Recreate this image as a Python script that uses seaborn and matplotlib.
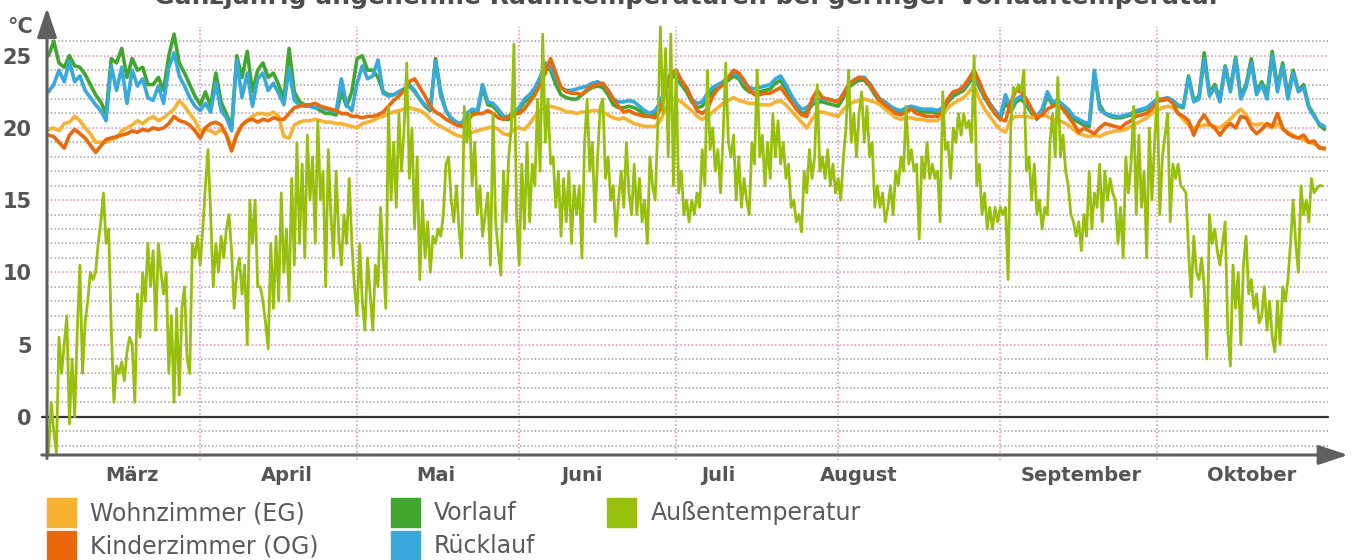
import pandas as pd
import matplotlib.pyplot as plt
from matplotlib.patches import Patch
import seaborn as sns

#  Setup
sns.set_style("white")
plt.rcParams["font.family"] = ["DejaVu Sans"]

TITLE = "Ganzjährig angenehme Raumtemperaturen bei geringer Vorlauftemperatur"

# daily values, 3 March -> 2 November (°C)
wohnzimmer = [
    19.9, 20.0, 19.8, 20.3, 20.4, 20.8, 20.5, 20.0, 19.6, 19.0,
    None, 19.0, 19.2, 19.3, 19.8, 20.0, 20.2, 20.5, 20.3, 20.6,
    20.8, 20.5, 20.7, 21.0, 21.3, 21.9, 21.5, 21.0, 20.5, 19.8,
    19.9, 19.8, 19.6, 19.9, 19.6, 18.6, 19.6, 20.2, 20.5, 20.8,
    21.0, 21.0, 20.9, 21.1, 20.8, 19.4, 19.3, 20.2, 20.4, 20.5,
    20.5, 20.6, 20.5, 20.4, 20.4, 20.3, 20.3, 20.2, 20.1, 20.0,
    20.3, 20.4, 20.5, 20.7, 20.8, 21.0, 21.1, 21.2, 21.3, 21.4,
    21.3, 21.2, 21.0, 20.6, 20.3, 20.1, 19.9, 19.7, 19.5, 19.4,
    19.6, 19.7, 19.8, 19.9, 20.0, 20.1, 19.9, 19.6, 19.5, 19.9,
    20.0, 19.9, 20.3, 20.8, 21.2, 21.4, 21.5, 21.4, 21.3, 21.1,
    21.1, 21.0, 21.1, 21.1, 21.2, 21.2, 21.1, 20.9, 20.7, 20.6,
    20.7, 20.5, 20.3, 20.2, 20.1, 20.1, 20.1, 20.5, 21.3, 22.0,
    22.0, 21.8, 21.5, 21.2, 20.8, 20.6, 20.8, 21.1, 21.4, 21.7,
    21.9, 22.1, 21.9, 21.8, 21.7, 21.7, 21.6, 21.6, 21.6, 21.8,
    21.9, 21.6, 21.2, 20.8, 20.4, 20.0, 20.6, 21.1, 21.1, 21.0,
    20.9, 20.8, 21.3, 21.6, 21.8, 21.9, 22.0, 21.9, 21.8, 21.6,
    21.3, 21.0, 20.7, 20.6, 20.7, 20.7, 20.6, 20.6, 20.5, 20.5,
    20.5, 20.9, 21.4, 21.7, 21.9, 22.1, 22.5, 22.9, 22.0, 21.3,
    20.8, 20.3, 19.9, 19.7, 20.6, 20.8, 20.8, 20.8, 20.7, 20.8,
    20.9, 20.8, 20.6, 20.5, 20.4, 20.2, 19.9, 19.6, 19.5, 19.4,
    19.5, 19.4, 19.6, 19.7, 19.8, 19.8, 19.9, 20.1, 20.3, 20.5,
    20.7, 21.0, 21.2, 21.4, 21.5, 21.4, 21.0, 20.6, 20.2, 20.0,
    20.1, 20.2, 20.2, 20.1, 20.0, 20.3, 20.6, 21.0, 21.3, 20.9,
    20.3, 20.2, 20.3, 20.2, 20.0, 20.3, 19.9, 19.7, 19.5, 19.3,
    19.2, 19.0, 18.9, 18.7, 18.5,
]

kinderzimmer = [
    19.5, 19.4, 19.0, 18.6, 19.5, 19.9, 19.6, 19.3, 18.8, 18.3,
    None, 19.2, 19.3, 19.4, 19.5, 19.6, 19.8, 19.7, 19.9, 19.8,
    20.0, 19.9, 20.0, 20.3, 20.8, 20.5, 20.4, 20.2, 19.8, 19.3,
    20.0, 20.3, 20.4, 20.2, 19.5, 18.4, 19.5, 20.2, 20.5, 20.6,
    20.4, 20.6, 20.5, 20.7, 20.6, 20.6, 21.0, 21.4, 21.5, 21.6,
    21.6, 21.7, 21.5, 21.4, 21.3, 21.2, 21.0, 21.0, 20.8, 20.8,
    20.7, 20.8, 20.8, 20.9, 21.1, 21.5, 21.9, 22.2, 22.6, 23.2,
    23.4, 22.8, 22.2, 21.5, 21.1, 20.9, 20.6, 20.4, 20.2, 20.1,
    20.4, 20.9, 21.0, 21.0, 21.2, 21.0, 20.7, 20.6, 20.8, 21.0,
    21.0, 21.3, 21.8, 22.3, 23.0, 23.8, 24.8, 23.8, 22.8, 22.5,
    22.4, 22.4, 22.3, 22.7, 22.9, 23.0, 23.1, 22.6, 22.0, 21.5,
    21.1, 21.2, 21.0, 20.9, 20.8, 20.8, 20.7, 21.3, 22.5, 23.8,
    24.0, 23.3, 22.8, 22.0, 21.2, 21.0, 21.3, 22.2, 22.7, 23.0,
    23.5, 24.0, 23.8, 23.3, 22.7, 22.3, 22.3, 22.4, 22.4, 22.6,
    22.8, 22.3, 21.8, 21.3, 20.9, 20.8, 22.0, 22.6, 22.1, 22.0,
    21.9, 21.8, 22.3, 23.0, 23.3, 23.5, 23.4, 23.0, 22.5, 21.9,
    21.6, 21.3, 21.0, 20.9, 21.1, 21.3, 21.0, 20.9, 20.8, 20.8,
    20.8, 21.2, 22.0, 22.5, 22.6, 22.9, 23.4, 24.0, 23.2, 22.3,
    21.6, 21.0, 20.6, 20.5, 21.8, 22.6, 22.5, 22.0, 21.3, 20.7,
    20.9, 21.3, 21.5, 21.6, 21.3, 20.8, 20.3, 19.7, 20.0, 19.8,
    19.6, 20.0, 20.3, 20.2, 20.1, 20.0, 20.3, 20.5, 20.8, 20.9,
    21.0, 21.3, 21.8, 22.0, 22.0, 21.7, 21.0, 20.8, 20.5, 19.5,
    20.4, 20.9, 20.3, 20.0, 19.5, 20.0, 20.3, 20.0, 20.8, 20.7,
    20.0, 19.6, 19.9, 20.3, 20.1, 21.0, 20.0, 19.6, 19.4, 19.3,
    19.5, 19.0, 19.1, 18.6, 18.6,
]

vorlauf = [
    25.0, 26.0, 24.5, 24.2, 25.0, 24.3, 24.2, 23.7, 23.0, 22.3,
    21.8, 21.0, 24.8, 24.5, 25.5, 23.5, 24.8, 24.0, 24.2, 23.0,
    23.0, 23.5, 22.6, 25.0, 26.5, 24.5, 23.8, 23.0, 22.2, 21.6,
    22.5, 21.5, 23.8, 21.8, 21.0, 20.0, 25.0, 23.5, 25.3, 22.5,
    24.0, 24.5, 23.5, 23.8, 23.0, 22.0, 25.5, 22.5, 21.8, 21.6,
    21.5, 21.4, 21.2, 21.0, 21.0, 20.9, 22.5, 21.5, 22.5, 24.8,
    25.0, 24.0, 24.0, 23.5, 22.5, 22.3, 22.3, 22.5, 22.7, 22.9,
    22.5, 22.0, 21.5, 21.2, 24.8, 22.5, 21.2, 20.6, 20.3, 20.2,
    20.8, 21.1, 21.0, 22.8, 21.6, 21.5, 21.1, 20.6, 20.6, 20.9,
    21.2, 21.8, 22.1, 22.6, 23.3, 24.2, 24.0, 23.0, 22.3, 22.1,
    22.0, 22.0, 22.3, 22.6, 22.8, 22.9, 22.8, 22.3, 21.6, 21.4,
    21.4, 21.5, 21.4, 21.2, 20.9, 20.8, 21.0, 21.6, 22.6, 23.6,
    23.5, 23.0, 22.5, 21.8, 21.4, 21.5, 22.1, 22.5, 22.8, 23.0,
    23.3, 23.6, 23.4, 22.8, 22.5, 22.4, 22.5, 22.6, 22.7, 23.1,
    23.3, 22.7, 22.0, 21.4, 21.0, 21.1, 21.6, 21.8, 21.8, 21.7,
    21.6, 21.5, 22.1, 22.8, 23.1, 23.3, 23.3, 22.9, 22.3, 21.8,
    21.4, 21.3, 21.1, 21.0, 21.2, 21.3, 21.2, 21.1, 21.1, 21.1,
    21.0, 21.2, 21.8, 22.2, 22.4, 22.6, 23.1, 23.6, 22.8, 22.1,
    21.5, 21.0, 20.6, 21.8, 21.1, 21.8, 22.0, 21.6, 21.0, 20.6,
    21.1, 22.2, 21.6, 21.7, 21.4, 21.1, 20.6, 20.4, 20.2, 20.1,
    23.8, 21.6, 21.0, 20.8, 20.7, 20.7, 20.8, 20.9, 21.1, 21.2,
    21.3, 21.6, 21.9, 21.9, 22.0, 21.8, 21.5, 21.4, 23.6, 21.9,
    22.2, 25.2, 22.4, 23.0, 22.0, 24.3, 22.7, 24.9, 22.2, 23.0,
    24.8, 22.5, 23.2, 22.3, 25.3, 22.8, 24.5, 22.3, 24.0, 22.6,
    23.0, 21.5, 20.9, 20.2, 19.9,
]

ruecklauf = [
    22.5, 23.0, 24.0, 23.2, 24.6, 23.2, 23.6, 22.6, 22.1, 21.6,
    21.2, 20.5, 24.3, 22.6, 24.2, 21.7, 24.0, 22.9, 23.4, 22.1,
    21.9, 22.9, 21.7, 24.2, 25.2, 23.6, 22.9, 22.1, 21.5, 21.2,
    21.7, 21.1, 23.1, 21.2, 20.7, 19.8, 24.7, 22.1, 23.8, 21.5,
    23.4, 23.8, 22.6, 23.1, 22.4, 21.6, 24.1, 21.9, 21.6, 21.5,
    21.5, 21.4, 21.4, 21.3, 21.2, 21.1, 23.4, 21.6, 21.2, 23.1,
    24.3, 23.4, 23.6, 24.7, 22.4, 22.2, 22.3, 22.5, 22.7, 23.0,
    22.6, 22.0, 21.6, 21.3, 24.6, 22.2, 21.2, 20.7, 20.4, 20.3,
    21.0, 21.3, 21.2, 23.0, 21.8, 21.7, 21.3, 20.8, 20.8, 21.1,
    21.4, 22.0, 22.3, 22.8, 23.5, 24.5, 24.2, 23.5, 22.8, 22.6,
    22.6, 22.7, 22.8, 22.9, 23.1, 23.2, 23.0, 22.6, 22.0, 21.8,
    21.8, 21.9, 21.8, 21.5, 21.2, 21.0, 21.2, 21.8, 22.8, 23.8,
    23.8, 23.2, 22.8, 22.0, 21.7, 21.8, 22.4, 22.8, 23.0, 23.2,
    23.5, 23.8, 23.6, 23.1, 22.8, 22.7, 22.8, 22.9, 23.0, 23.4,
    23.6, 23.0, 22.3, 21.7, 21.3, 21.4, 21.8, 22.0, 22.0, 22.0,
    21.9, 21.8, 22.4, 23.0, 23.3, 23.5, 23.5, 23.1, 22.5, 22.0,
    21.8, 21.5, 21.3, 21.2, 21.4, 21.5, 21.4, 21.3, 21.3, 21.3,
    21.2, 21.4, 22.0, 22.4, 22.6, 22.8, 23.3, 23.8, 23.0, 22.3,
    21.7, 21.2, 20.8, 22.3, 21.3, 22.0, 22.2, 21.8, 21.2, 20.8,
    21.3, 22.5, 21.8, 21.9, 21.6, 21.3, 20.8, 20.6, 20.4, 20.3,
    24.0, 21.3, 21.0, 20.9, 20.8, 20.8, 20.9, 21.0, 21.2, 21.3,
    21.4, 21.7, 22.0, 22.0, 22.1, 21.9, 21.6, 21.5, 23.5, 21.8,
    22.0, 24.8, 22.2, 22.8, 21.8, 24.2, 22.5, 24.8, 22.0, 22.8,
    24.5, 22.3, 23.0, 22.0, 25.0, 22.5, 24.3, 22.0, 23.8, 22.5,
    22.8, 21.4, 20.8, 20.3, 20.1,
]

# outdoor temperature, twice a day, 3 March 00:00 -> 1 November 12:00 (°C)
aussen = [
    -2.5, 1.0, -1.0, -2.5, 5.5, 3.0, 5.0, 7.0, -0.5, 4.0,
    0.0, 6.0, 10.5, 3.0, 6.5, 8.0, 10.0, 9.5, 10.0, 12.0,
    13.5, 15.5, 12.0, 13.0, 6.0, 1.0, 3.5, 3.0, 3.8, 2.5,
    4.5, 5.5, 5.0, 1.0, 8.5, 5.5, 10.0, 8.0, 12.0, 9.0,
    11.5, 6.0, 12.0, 10.0, 8.5, 10.0, 3.0, 7.0, 1.0, 7.5,
    1.5, 7.5, 9.0, 4.0, 3.0, 12.0, 11.0, 12.5, 10.5, 13.0,
    16.0, 18.5, 14.0, 9.0, 12.0, 10.0, 12.5, 11.0, 13.0, 14.0,
    11.5, 7.5, 10.0, 11.0, 8.5, 10.5, 5.0, 15.0, 12.0, 15.0,
    9.0, 9.0, 8.0, 6.5, 4.7, 12.0, 7.5, 12.5, 8.0, 15.5,
    10.0, 13.0, 8.0, 16.5, 10.5, 19.0, 12.0, 17.5, 11.0, 19.5,
    15.0, 18.0, 12.0, 20.5, 15.0, 17.0, 9.0, 18.5, 14.0, 11.0,
    17.0, 12.5, 10.5, 14.0, 12.0, 16.5, 12.0, 9.0, 7.0, 12.0,
    8.0, 6.0, 11.0, 8.5, 6.0, 10.5, 9.0, 14.5, 11.0, 7.5,
    21.5, 15.0, 19.0, 14.5, 21.0, 17.0, 20.0, 24.5, 16.5, 20.0,
    13.0, 18.0, 9.5, 15.0, 11.0, 13.5, 10.0, 12.5, 12.0, 13.0,
    12.5, 14.0, 17.5, 18.0, 15.0, 13.5, 16.0, 13.0, 11.0, 21.5,
    19.0, 21.0, 16.0, 19.0, 14.0, 16.0, 12.5, 14.0, 15.5, 10.5,
    21.0, 13.5, 11.5, 9.8, 17.0, 13.5, 18.0, 20.0, 25.8, 14.0,
    10.5, 17.5, 13.0, 19.0, 13.5, 17.5, 16.0, 22.0, 17.0, 26.5,
    19.0, 22.0, 17.5, 18.0, 14.5, 17.0, 12.5, 16.5, 13.5, 17.0,
    12.0, 16.0, 14.0, 16.0, 11.0, 19.0, 22.0, 17.0, 19.0, 13.5,
    18.0, 21.5, 22.0, 16.5, 18.0, 15.0, 16.0, 12.5, 15.0, 17.0,
    14.5, 19.0, 15.5, 14.0, 17.5, 14.0, 16.5, 13.5, 15.0, 12.0,
    18.0, 16.0, 15.0, 20.0, 27.0, 21.0, 25.5, 18.0, 26.5, 16.0,
    24.0, 15.5, 17.0, 14.0, 15.0, 13.5, 15.0, 14.0, 15.5, 14.5,
    18.5, 16.0, 24.0, 18.5, 20.0, 17.0, 18.5, 15.5, 19.5, 24.5,
    19.0, 18.0, 19.5, 15.0, 18.0, 14.5, 16.5, 15.0, 14.0, 19.0,
    17.5, 24.0, 18.0, 19.5, 16.0, 19.0, 16.5, 21.0, 18.0, 20.5,
    17.5, 19.0, 16.5, 17.5, 14.5, 15.0, 13.5, 14.0, 12.8, 17.0,
    15.5, 18.5, 16.5, 18.0, 23.0, 17.0, 18.0, 16.5, 18.5, 16.0,
    17.5, 15.5, 16.5, 15.0, 18.0, 20.0, 24.0, 19.0, 21.0, 18.0,
    21.0, 22.5, 19.0, 21.5, 18.0, 19.0, 14.5, 16.0, 14.5, 15.5,
    13.5, 14.5, 16.0, 14.0, 17.0, 16.0, 18.0, 17.0, 21.5, 17.5,
    18.5, 17.0, 17.5, 12.3, 18.0, 16.5, 19.0, 16.5, 17.5, 16.5,
    17.0, 13.5, 22.5, 18.5, 19.0, 16.5, 20.0, 19.0, 21.0, 19.5,
    21.0, 20.0, 20.5, 19.0, 25.0, 16.0, 17.5, 14.0, 15.5, 13.0,
    14.5, 13.0, 14.5, 13.5, 14.5, 14.0, 14.5, 9.5, 20.0, 22.8,
    22.5, 23.0, 22.5, 24.0, 17.0, 18.0, 15.0, 17.5, 14.0, 15.0,
    13.0, 14.5, 14.0, 19.0, 21.0, 18.0, 23.5, 18.0, 19.5, 17.0,
    16.0, 14.0, 13.5, 12.5, 13.5, 11.5, 14.0, 12.5, 17.0, 13.0,
    15.5, 14.5, 17.5, 13.5, 17.0, 15.0, 16.5, 15.5, 15.0, 12.0,
    14.5, 11.0, 18.0, 15.5, 17.5, 21.5, 14.0, 19.5, 14.5, 17.0,
    11.0, 20.0, 15.0, 19.0, 22.5, 14.0, 18.0, 19.5, 21.0, 13.5,
    17.5, 16.5, 17.5, 16.0, 15.8, 15.5, 11.5, 8.3, 12.5, 10.0,
    9.5, 11.0, 9.0, 4.0, 14.0, 12.0, 13.0, 11.5, 10.5, 12.0,
    13.5, 6.0, 3.5, 10.5, 7.5, 10.0, 5.0, 10.5, 12.5, 8.5,
    9.5, 7.5, 8.5, 6.5, 7.0, 9.0, 6.0, 8.0, 5.5, 4.5,
    8.0, 5.0, 9.0, 8.0, 9.5, 12.0, 15.0, 12.0, 10.0, 16.0,
    14.0, 15.0, 13.5, 16.5, 15.5, 15.8, 16.0, 16.0,
]

months = ["März", "April", "Mai", "Juni", "Juli", "August", "September", "Oktober"]
month_label_dates = ["2019-03-19", "2019-04-17 12:00", "2019-05-16", "2019-06-13",
                     "2019-07-09", "2019-08-05", "2019-09-16 12:00", "2019-10-19"]
month_starts = ["2019-04-01", "2019-05-01", "2019-06-01", "2019-07-01",
                "2019-08-01", "2019-09-01", "2019-10-01"]

series = [
    ("Vorlauf", vorlauf, "#41A62F"),
    ("Rücklauf", ruecklauf, "#38A9DB"),
    ("Wohnzimmer (EG)", wohnzimmer, "#F8B233"),
    ("Kinderzimmer (OG)", kinderzimmer, "#E9690C"),
]
AUSSEN_COLOR = "#97BF0D"
TEXT = "#555555"
PINK = "#EF9CC2"
GRID = "#A8A8A8"

days = pd.date_range("2019-03-03", periods=len(wohnzimmer), freq="D")
halfdays = pd.date_range("2019-03-03", periods=len(aussen), freq="12h")

Y_MIN, Y_MAX = -2.65, 27.3
fig = plt.figure(figsize=(13.56, 5.6), dpi=100)
ax = fig.add_axes([47 / 1356, 105 / 560, 1281 / 1356, 432.5 / 560])

#  Grid: grey dotted every degree, pink every 5, black zero line
for t in range(-2, 27):
    if t == 0:
        ax.axhline(0, color="#333333", lw=1.6, xmin=-0.004, clip_on=False, zorder=1)
    elif t % 5 == 0:
        ax.axhline(t, color=PINK, lw=1.3, ls=(0, (0.9, 1.2)), zorder=0)
    else:
        ax.axhline(t, color=GRID, lw=1.2, ls=(0, (0.9, 1.3)), zorder=0)

vtop = (27.0 - Y_MIN) / (Y_MAX - Y_MIN)
for m in month_starts:
    ax.axvline(pd.Timestamp(m), ymin=-0.012, ymax=vtop, color=PINK, lw=1.3,
               ls=(0, (0.9, 1.2)), clip_on=False, zorder=0)

#  Lines
for i, (name, values, color) in enumerate(series):
    sns.lineplot(x=days, y=values, color=color, lw=2.6, estimator=None,
                 ax=ax, zorder=2 + i)
sns.lineplot(x=halfdays, y=aussen, color=AUSSEN_COLOR, lw=2.0, estimator=None,
             ax=ax, zorder=7)

ax.set_xlim(pd.Timestamp("2019-03-02 17:00"), pd.Timestamp("2019-11-02 16:00"))
ax.set_ylim(Y_MIN, Y_MAX)
ax.set_xlabel("")
ax.set_ylabel("")
for s in ax.spines.values():
    s.set_visible(False)

ax.set_xticks([pd.Timestamp(d) for d in month_label_dates])
ax.set_xticklabels(months, fontsize=14, fontweight="bold", color=TEXT)
ax.set_yticks([0, 5, 10, 15, 20, 25])
ax.set_yticklabels(["0", "5", "10", "15", "20", "25"], fontsize=15,
                   fontweight="bold", color=TEXT)
ax.tick_params(axis="x", length=0, pad=8)
ax.tick_params(axis="y", length=0, pad=11)

#  Axis arrows
arrow = dict(arrowstyle="-|>,head_length=0.9,head_width=0.3", color="#5f5f5f",
             lw=2.2, shrinkA=0, shrinkB=0, mutation_scale=20)
ax.annotate("", xy=(1.0156, 0), xytext=(-0.004, 0), xycoords="axes fraction",
            arrowprops=arrow, zorder=10, annotation_clip=False)
ax.annotate("", xy=(0, 1.034), xytext=(0, -0.008), xycoords="axes fraction",
            arrowprops=arrow, zorder=10, annotation_clip=False)

fig.text(20 / 1356, 1 - 27 / 560, "°C", ha="center", va="center",
         fontsize=15, fontweight="bold", color=TEXT)
fig.text(688 / 1356, 1 - 4 / 560, TITLE, ha="center", va="baseline",
         fontsize=18, fontweight="bold", color="#4d4d4d")

#  Legend
order = ["Wohnzimmer (EG)", "Kinderzimmer (OG)", "Vorlauf", "Rücklauf"]
colors = {name: color for name, _, color in series}
handles = [Patch(color=colors[n]) for n in order] + [Patch(color=AUSSEN_COLOR)]
labels = order + ["Außentemperatur"]
fig.legend(handles, labels, loc="upper left", bbox_to_anchor=(47 / 1356, 1 - 498 / 560),
           ncol=3, frameon=False, fontsize=17, labelcolor="#5a5a5a",
           handlelength=1.23, handleheight=1.5, handletextpad=0.6,
           columnspacing=3.05, labelspacing=0.17, borderpad=0, borderaxespad=0)

plt.savefig("out.png", dpi=100)
plt.close()
